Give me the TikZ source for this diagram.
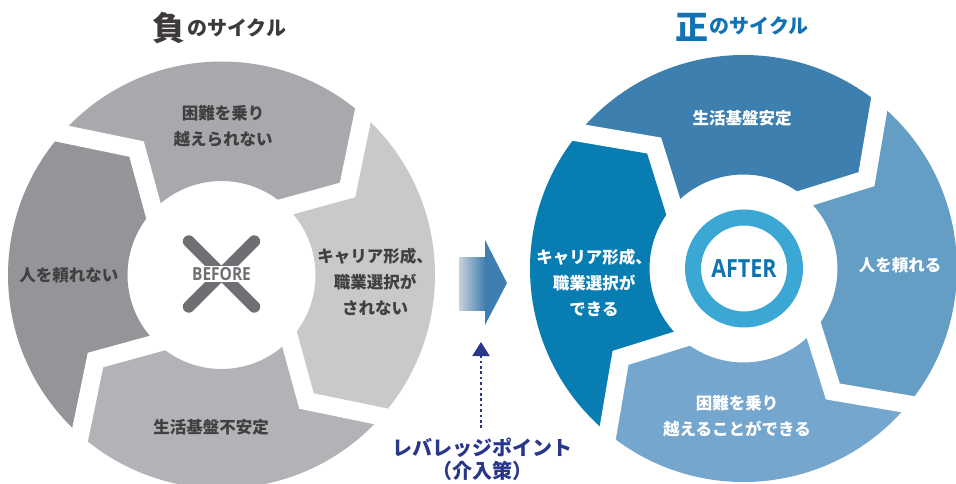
\documentclass[tikz,border=0pt]{standalone}
\usepackage{fontspec}
\setmainfont{Noto Sans CJK JP}
\newfontfamily\condfont[FakeStretch=0.86]{Open Sans}
\usetikzlibrary{calc,arrows.meta}
\definecolor{Ltop}{RGB}{167,169,172}
\definecolor{Lright}{RGB}{200,201,203}
\definecolor{Lbottom}{RGB}{178,179,182}
\definecolor{Lleft}{RGB}{148,149,153}
\definecolor{Rtop}{RGB}{61,128,176}
\definecolor{Rright}{RGB}{101,158,196}
\definecolor{Rbottom}{RGB}{117,166,206}
\definecolor{Rleft}{RGB}{7,125,178}
\definecolor{txtgray}{RGB}{64,64,64}
\definecolor{titlegray}{RGB}{62,58,57}
\definecolor{titleblue}{RGB}{18,115,180}
\definecolor{xgray}{RGB}{110,111,114}
\definecolor{ringblue}{RGB}{59,167,212}
\definecolor{afterblue}{RGB}{14,116,175}
\definecolor{levnavy}{RGB}{40,54,140}
\definecolor{arrowlight}{RGB}{202,208,220}
\definecolor{arrowblue}{RGB}{62,126,176}
\def\Ro{213.5}
\def\Rm{152}
\def\Ri{94}
\def\tw{14.5}
\def\ti{2}
\tikzset{
  lbl/.style={font=\bfseries\fontsize{16.5}{26}\selectfont, align=center, inner sep=0pt},
  graylbl/.style={lbl, text=txtgray},
  whitelbl/.style={lbl, text=white},
  gapline/.style={white, line width=18pt, line join=miter},
  bigtitle/.style={font=\bfseries\fontsize{33}{33}\selectfont, inner sep=0pt, anchor=base},
  smalltitle/.style={font=\bfseries\fontsize{20}{20}\selectfont, inner sep=0pt, anchor=base west},
}
\newcommand\mkring[7]{%
  \begin{scope}[shift={(#1,#2)}]
    \foreach \k/\col in {0/#4,1/#5,2/#6,3/#7}{
      \pgfmathsetmacro\a{#3-90*\k}
      \pgfmathsetmacro\b{\a-90}
      \pgfmathsetmacro\bm{\b-\tw}
      \pgfmathsetmacro\bi{\b-\ti}
      \pgfmathsetmacro\am{\a-\tw}
      \pgfmathsetmacro\ai{\a-\ti}
      \fill[\col] (\a:\Ro) arc[start angle=\a, end angle=\b, radius=\Ro] -- (\bm:\Rm) -- (\bi:\Ri)
        arc[start angle=\bi, end angle=\ai, radius=\Ri] -- (\am:\Rm) -- cycle;
    }
    \foreach \k in {0,...,3}{
      \pgfmathsetmacro\a{#3-90*\k}
      \pgfmathsetmacro\am{\a-\tw}
      \pgfmathsetmacro\ai{\a-\ti}
      \draw[gapline] ($(\am:\Rm)!1.3!(\a:\Ro)$) -- (\a:\Ro) -- (\am:\Rm) -- (\ai:\Ri) -- ($(\am:\Rm)!1.4!(\ai:\Ri)$);
    }
  \end{scope}}
\begin{document}
\begin{tikzpicture}[x=1pt,y=1pt]
\useasboundingbox (0,0) rectangle (956,-484);
\clip (0,0) rectangle (956,-484);
\fill[white] (0,0) rectangle (956,-484);

% left (negative) cycle
\mkring{221.5}{-275}{138.5}{Ltop}{Lright}{Lbottom}{Lleft}
% right (positive) cycle
\mkring{743.5}{-268.5}{140.5}{Rtop}{Rright}{Rbottom}{Rleft}

% titles
\node[bigtitle, text=titlegray] (negk) at (169,-41) {負};
\node[smalltitle, text=titlegray] (negt) at (187,-36) {のサイクル};
\node[bigtitle, text=titleblue] (posk) at (692,-39.5) {正};
\node[smalltitle, text=titleblue] (post) at (709.5,-34) {のサイクル};

% left labels
\node[graylbl] (ltop) at (223,-126.5) {困難を乗り\\越えられない};
\node[graylbl] (lleft) at (69,-275) {人を頼れない};
\node[graylbl] (lright) at (375,-282) {キャリア形成、\\職業選択が\\されない};
\node[graylbl] (lbottom) at (211,-427) {生活基盤不安定};

% right labels
\node[whitelbl] (rtop) at (742,-118) {生活基盤安定};
\node[whitelbl] (rright) at (900,-265) {人を頼れる};
\node[whitelbl] (rleft) at (594,-283) {キャリア形成、\\職業選択が\\できる};
\node[whitelbl] (rbottom) at (737,-416.5) {困難を乗り\\越えることができる};

% BEFORE cross
\coordinate (xc) at (221.5,-274);
\draw[xgray, line width=12pt, line cap=round] ($(xc)+(-32.7,32.7)$) -- ($(xc)+(32.7,-32.7)$);
\draw[xgray, line width=12pt, line cap=round] ($(xc)+(32.7,32.7)$) -- ($(xc)+(-32.7,-32.7)$);
\node[fill=white, inner xsep=1pt, inner ysep=1.5pt, text=xgray, font=\condfont\bfseries\fontsize{18}{18}\selectfont] (before) at (xc) {BEFORE};

% AFTER ring
\coordinate (ac) at (744,-268.5);
\draw[ringblue, line width=16pt] (ac) circle[radius=51];
\node[inner sep=0pt, text=afterblue, font=\condfont\bfseries\fontsize{25}{25}\selectfont] (after) at (ac) {AFTER};

% middle arrow
\shade[left color=arrowlight, right color=arrowblue] (459,-257) rectangle (485.5,-310);
\fill[arrowblue] (485,-240) -- (507,-283) -- (485,-325) -- cycle;

% leverage point
\node[inner sep=0pt, align=center, text=levnavy, font=\bfseries\fontsize{20}{23}\selectfont] (lev) at (482,-459.5) {レバレッジポイント\\（介入策）};
\coordinate (levtip) at (481,-342);
\draw[levnavy, line width=2pt, dash pattern=on 2.7pt off 2.7pt, shorten <=10pt,
  -{Triangle[width=17pt,length=14pt]}] (lev.north -| levtip) -- (levtip);
\end{tikzpicture}
\end{document}
